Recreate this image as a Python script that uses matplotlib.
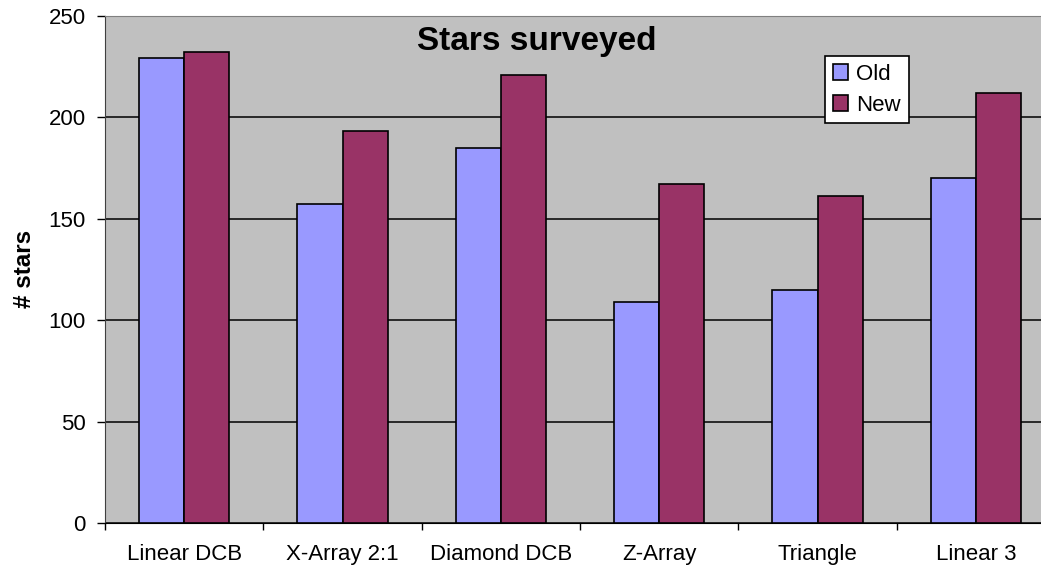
import matplotlib.pyplot as plt
import numpy as np

plt.rcParams['font.family'] = ['Liberation Sans', 'DejaVu Sans']

# Stars surveyed per array configuration
configs = ['Linear DCB', 'X-Array 2:1', 'Diamond DCB', 'Z-Array', 'Triangle', 'Linear 3']
old_counts = [229, 157, 185, 109, 115, 170]
new_counts = [232, 193, 221, 167, 161, 212]

fig = plt.figure(figsize=(10.41, 5.68), dpi=100)
ax = fig.add_axes([0.1009, 0.0792, 0.9126, 0.8932])
ax.set_facecolor('#C0C0C0')

x = np.arange(len(configs))
w = 1 / 3.5
ax.bar(x - w / 2, old_counts, w, color='#9999FF', edgecolor='black', linewidth=1.2,
       label='Old', zorder=3)
ax.bar(x + w / 2, new_counts, w, color='#993366', edgecolor='black', linewidth=1.2,
       label='New', zorder=3)

ax.set_xlim(-0.5, len(configs) - 0.5)
ax.set_ylim(0, 250)
ax.set_yticks(range(0, 251, 50))
ax.yaxis.grid(True, color='black', linewidth=1.1, zorder=1)
ax.set_axisbelow(True)

ax.set_xticks(x)
ax.set_xticklabels(configs, fontsize=16)
ax.set_xticks(np.arange(-0.5, len(configs)), minor=True)
ax.tick_params(axis='x', which='major', length=0, pad=15)
ax.tick_params(axis='x', which='minor', length=5, width=1, direction='out')
ax.tick_params(axis='y', length=6, width=1, labelsize=16, pad=8)

for side in ['top', 'right']:
    ax.spines[side].set_color('#808080')
ax.spines['left'].set_color('#404040')
ax.spines['bottom'].set_color('black')

ax.set_ylabel('# stars', fontsize=17.5, fontweight='bold', labelpad=9)
ax.text(0.454, 0.98, 'Stars surveyed', transform=ax.transAxes, ha='center', va='top',
        fontsize=24, fontweight='bold')

leg = ax.legend(loc='upper left', bbox_to_anchor=(0.758, 0.921), fontsize=16,
                frameon=True, fancybox=False, handlelength=0.7, handleheight=0.7,
                handletextpad=0.35, borderpad=0.35, labelspacing=0.45, borderaxespad=0)
leg.get_frame().set_edgecolor('black')
leg.get_frame().set_linewidth(1.2)
leg.get_frame().set_facecolor('white')
leg.get_frame().set_alpha(1)

fig.savefig('out.png', dpi=100)
